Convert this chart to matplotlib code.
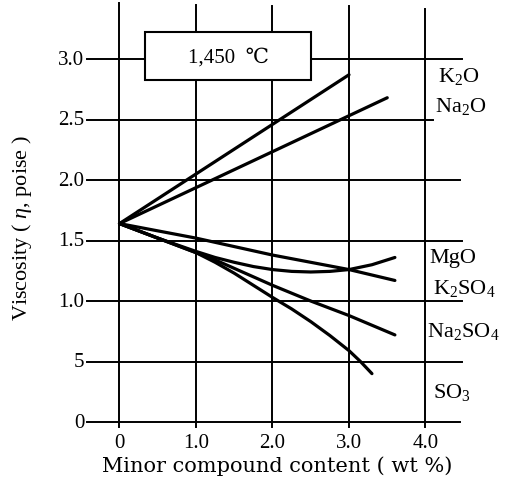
import matplotlib
matplotlib.use("agg")
import matplotlib.pyplot as plt
from matplotlib.patches import Rectangle

# values
x_ticks = [0, 1.0, 2.0, 3.0, 4.0]
x_tick_labels = ["0", "1.0", "2.0", "3.0", "4.0"]
y_ticks = [0, 0.5, 1.0, 1.5, 2.0, 2.5, 3.0]
y_tick_labels = ["0", "5", "1.0", "1.5", "2.0", "2.5", "3.0"]

k2o_x = [0, 3.0]
k2o_y = [1.64, 2.87]
na2o_x = [0, 3.5]
na2o_y = [1.64, 2.68]
mgo_x = [0, 0.5, 1.0, 1.25, 1.5, 1.75, 2.0, 2.25, 2.5, 2.75, 3.0, 3.3, 3.6]
mgo_y = [1.64, 1.52, 1.41, 1.36, 1.32, 1.285, 1.26, 1.245, 1.24, 1.245,
         1.26, 1.30, 1.36]
k2so4_x = [0, 1.0, 2.0, 3.0, 3.6]
k2so4_y = [1.64, 1.52, 1.38, 1.26, 1.17]
na2so4_x = [0, 0.5, 1.0, 1.25, 1.5, 2.0, 2.5, 3.0, 3.6]
na2so4_y = [1.64, 1.52, 1.40, 1.34, 1.27, 1.13, 1.00, 0.88, 0.72]
so3_x = [0, 0.5, 1.0, 1.25, 1.5, 1.75, 2.0, 2.25, 2.5, 2.75, 3.0, 3.15, 3.3]
so3_y = [1.64, 1.52, 1.40, 1.32, 1.23, 1.13, 1.03, 0.935, 0.83, 0.715,
         0.59, 0.50, 0.40]

series_labels = [r"K$_2$O", r"Na$_2$O", "MgO", r"K$_2$SO$_4$",
                 r"Na$_2$SO$_4$", r"SO$_3$"]

plt.rcParams['font.family'] = ['Liberation Serif', 'DejaVu Serif']
plt.rcParams['mathtext.fontset'] = 'custom'
plt.rcParams['mathtext.rm'] = 'Liberation Serif'
plt.rcParams['mathtext.it'] = 'Liberation Serif:italic'
plt.rcParams['mathtext.default'] = 'regular'

fig = plt.figure(figsize=(5.15, 4.81), dpi=100)
ax = fig.add_axes([0, 0, 1, 1])
ax.set_xlim(-1.562, 5.170)
ax.set_ylim(-0.479, 3.496)
ax.axis('off')

fs = 15
# grid drawn by hand, it sticks out past the data area like the original
h_right = [4.45, 4.48, 4.48, 4.48, 4.45, 4.10, 4.48]
for y, r in zip(y_ticks, h_right):
    ax.plot([-0.42, r], [y, y], color='k', lw=1.4, zorder=1)
v_top = [3.46, 3.45, 3.44, 3.44, 3.41]
for x, t in zip(x_ticks, v_top):
    ax.plot([x, x], [-0.04, t], color='k', lw=1.4, zorder=1)

for y, lab in zip(y_ticks, y_tick_labels):
    ax.text(-0.46, y, lab, ha='right', va='center', fontsize=fs)
for x, lab in zip(x_ticks, x_tick_labels):
    ax.text(x, -0.165, lab, ha='center', va='center', fontsize=fs)

ax.text(2.06, -0.355, "Minor compound content ( wt %)", ha='center',
        va='center', fontsize=fs, family='DejaVu Serif')
ax.text(-1.28, 1.61, r"Viscosity ( $\mathit{\eta}$, poise )", ha='center',
        va='center', rotation=90, fontsize=fs + 1)

lines = [(k2o_x, k2o_y), (na2o_x, na2o_y), (mgo_x, mgo_y),
         (k2so4_x, k2so4_y), (na2so4_x, na2so4_y), (so3_x, so3_y)]
for xs, ys in lines:
    ax.plot(xs, ys, color='k', lw=2.3, solid_capstyle='round',
            solid_joinstyle='round', zorder=3)

# label position for each series at right
lab_pos = [(4.16, 2.82), (4.12, 2.57), (4.05, 1.32), (4.10, 1.07),
           (4.02, 0.71), (4.10, 0.21)]
for (x, y), lab in zip(lab_pos, series_labels):
    ax.text(x, y, lab, ha='left', va='baseline', fontsize=fs + 1)

box = Rectangle((0.33, 2.83), 2.17, 0.39, facecolor='white',
                edgecolor='k', lw=1.5, zorder=4)
ax.add_patch(box)
ax.text(1.42, 3.02, "1,450  ℃", ha='center', va='center', fontsize=fs,
        zorder=5)

fig.savefig("out.png", dpi=100)
